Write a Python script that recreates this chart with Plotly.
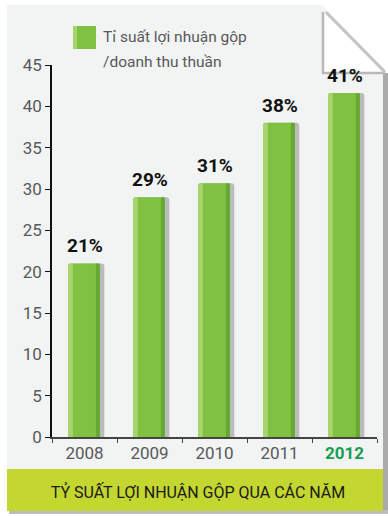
import plotly.graph_objects as go

years = ["2008", "2009", "2010", "2011", "2012"]
values = [21.0, 29.0, 30.7, 38.0, 41.6]
labels = ["21%", "29%", "31%", "38%", "41%"]
y_ticks = [0, 5, 10, 15, 20, 25, 30, 35, 40, 45]
legend_lines = ["Tỉ suất lợi nhuận gộp", "/doanh thu thuần"]
title_text = "TỶ SUẤT LỢI NHUẬN GỘP QUA CÁC NĂM"

W, H = 388, 516
L, R, T, B = 52, 11, 65, 79
PW, PH = W - L - R, H - T - B

def px(x):
    return (x - L) / PW

def py(y):
    return (H - B - y) / PH

FONT = "Roboto, sans-serif"
GRAY = "#58595b"

fig = go.Figure()
# shadow
fig.add_trace(go.Bar(x=years, y=values, width=0.51, offset=-0.205,
                     marker=dict(color="rgba(150,150,150,0.6)", line=dict(width=0)),
                     hoverinfo="skip", showlegend=False))
# main bar
fig.add_trace(go.Bar(x=years, y=values, width=0.49, offset=-0.254,
                     marker=dict(color="#80c142", line=dict(width=0)),
                     name="Tỉ suất lợi nhuận gộp /doanh thu thuần", showlegend=False))
# dark right edge
fig.add_trace(go.Bar(x=years, y=values, width=0.06, offset=0.176,
                     marker=dict(color="#66a834", line=dict(width=0)),
                     hoverinfo="skip", showlegend=False))
# light left highlight
fig.add_trace(go.Bar(x=years, y=values, width=0.075, offset=-0.254,
                     marker=dict(color="#a7d46c", line=dict(width=0)),
                     hoverinfo="skip", showlegend=False))

shapes = []
# card background
shapes.append(dict(type="path", xref="paper", yref="paper", layer="below",
                   path=f"M {px(7)},{py(5)} L {px(322)},{py(5)} L {px(383)},{py(70)} L {px(383)},{py(511)} L {px(7)},{py(511)} Z",
                   fillcolor="#f2f3f3", line=dict(width=0)))
# right shadow strip
shapes.append(dict(type="rect", xref="paper", yref="paper", layer="below",
                   x0=px(383), x1=px(388), y0=py(73), y1=py(513),
                   fillcolor="#aaaaaa", line=dict(width=0)))
# bottom shadow
shapes.append(dict(type="rect", xref="paper", yref="paper", layer="below",
                   x0=px(9), x1=px(388), y0=py(510), y1=py(514),
                   fillcolor="#bdbdbd", line=dict(width=0)))
# banner
shapes.append(dict(type="rect", xref="paper", yref="paper", layer="below",
                   x0=px(7), x1=px(383), y0=py(469), y1=py(511),
                   fillcolor="#c4d630", line=dict(width=0)))
# folded flap
shapes.append(dict(type="path", xref="paper", yref="paper", layer="above",
                   path=f"M {px(323)},{py(12)} L {px(323)},{py(73)} L {px(383)},{py(73)} Z",
                   fillcolor="#ffffff", line=dict(width=0)))
shapes.append(dict(type="path", xref="paper", yref="paper", layer="above",
                   path=f"M {px(323)},{py(12)} L {px(323)},{py(73)} L {px(385)},{py(73)}",
                   line=dict(color="#b9b9b9", width=2.5)))
shapes.append(dict(type="line", xref="paper", yref="paper", layer="above",
                   x0=px(326), y0=py(12), x1=px(385), y1=py(72),
                   line=dict(color="#c4c4c4", width=3)))
# legend swatch
shapes.append(dict(type="rect", xref="paper", yref="paper", layer="above",
                   x0=px(73), x1=px(96), y0=py(49), y1=py(26),
                   fillcolor="#80c142", line=dict(width=0)))
shapes.append(dict(type="rect", xref="paper", yref="paper", layer="above",
                   x0=px(73), x1=px(77), y0=py(49), y1=py(26),
                   fillcolor="#a7d46c", line=dict(width=0)))

annotations = []
for i, (v, lab) in enumerate(zip(values, labels)):
    annotations.append(dict(x=i, y=v, text=f"<b>{lab}</b>", showarrow=False,
                            xref="x", yref="y", yanchor="bottom", yshift=4,
                            font=dict(family=FONT, size=19, color="#111111")))
for line, yc in zip(legend_lines, [37, 62]):
    annotations.append(dict(xref="paper", yref="paper", x=px(101), y=py(yc),
                            xanchor="left", yanchor="middle", align="left", showarrow=False,
                            text=line,
                            font=dict(family=FONT, size=15.5, color=GRAY)))

ticktext = years[:-1] + ["<b><span style='color:#15a04f'>2012</span></b>"]

fig.update_layout(
    width=W, height=H,
    margin=dict(l=L, r=R, t=T, b=B, pad=0),
    paper_bgcolor="#ffffff", plot_bgcolor="rgba(0,0,0,0)",
    barmode="overlay", barcornerradius=3,
    showlegend=False,
    title=dict(text=title_text, x=(198) / W, xanchor="center",
               y=1 - 492 / H, yanchor="middle", yref="container",
               font=dict(family=FONT, size=16, color="#1a1a1a")),
    shapes=shapes, annotations=annotations,
    xaxis=dict(type="category", categoryorder="array", categoryarray=years,
               tickmode="array", tickvals=years, ticktext=ticktext,
               range=[-0.5, 4.5], showgrid=False, zeroline=False,
               showline=True, linecolor="#444444", linewidth=1.5,
               ticks="outside", tickson="boundaries", ticklen=4, tickcolor="#444444",
               tickfont=dict(family=FONT, size=17, color=GRAY)),
    yaxis=dict(range=[0, 45], tickmode="array", tickvals=y_ticks,
               showgrid=False, zeroline=False,
               showline=True, linecolor="#111111", linewidth=1.5,
               ticks="outside", ticklen=5, tickcolor="#111111",
               tickfont=dict(family=FONT, size=17, color=GRAY)),
)

fig.write_html("out.html")
